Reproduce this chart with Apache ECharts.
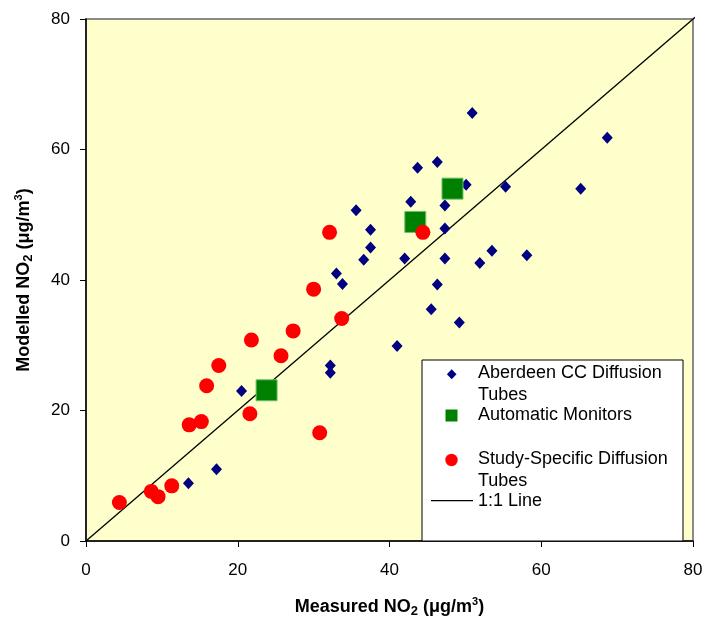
<!DOCTYPE html>
<html><head><meta charset="utf-8">
<script src="https://cdn.jsdelivr.net/npm/echarts@6/dist/echarts.min.js"></script>
<style>html,body{margin:0;padding:0;background:#fff}#c{width:707px;height:626px}</style>
</head><body><div id="c"></div>
<script>
var abX = [13.5, 17.2, 20.5, 32.2, 32.2, 33.0, 33.8, 35.6, 36.6, 37.5, 37.5, 41.0, 42.0, 42.8, 43.7, 45.5, 46.3, 46.3, 47.3, 47.3, 47.3, 49.2, 50.1, 50.9, 51.9, 53.5, 55.3, 58.1, 65.2, 68.7];
var abY = [8.85, 11.0, 23.0, 26.9, 25.8, 41.0, 39.4, 50.7, 43.1, 47.7, 45.0, 29.9, 43.3, 52.0, 57.2, 35.5, 58.1, 39.3, 51.4, 47.9, 43.3, 33.5, 54.6, 65.6, 42.6, 44.5, 54.3, 43.8, 54.0, 61.8];
var autoX = [23.8, 43.4, 48.3];
var autoY = [23.1, 48.9, 54.0];
var studyX = [4.4, 8.6, 9.5, 11.3, 13.6, 15.2, 15.9, 17.5, 21.6, 21.8, 25.7, 27.3, 30.0, 30.8, 32.1, 33.7, 44.4];
var studyY = [5.9, 7.6, 6.8, 8.45, 17.8, 18.3, 23.8, 26.9, 19.5, 30.8, 28.4, 32.2, 38.6, 16.6, 47.3, 34.1, 47.3];
var lineX = [0, 81.7];
var lineY = [0, 81.7];
var axisTicks = [0, 20, 40, 60, 80];
var legendNames = ['Aberdeen CC Diffusion\nTubes', 'Automatic Monitors', 'Study-Specific Diffusion\nTubes', '1:1 Line'];

function zip(a, b) { return a.map(function (v, i) { return [v, b[i]]; }); }
var FF = '"Liberation Sans", Arial, sans-serif';
var titleRich = {
  b: { fontFamily: FF, fontSize: 18, fontWeight: 'bold', color: '#000', lineHeight: 22 },
  sub: { fontFamily: FF, fontSize: 13, fontWeight: 'bold', color: '#000', lineHeight: 13, verticalAlign: 'bottom' },
  sup: { fontFamily: FF, fontSize: 11, fontWeight: 'bold', color: '#000', lineHeight: 11, verticalAlign: 'top' }
};
function axisCommon(name, gap) {
  return {
    type: 'value', min: axisTicks[0], max: axisTicks[axisTicks.length - 1], interval: axisTicks[1] - axisTicks[0],
    name: name, nameLocation: 'middle', nameGap: gap,
    nameTextStyle: { rich: titleRich },
    axisLine: { show: true, onZero: false, lineStyle: { color: '#000', width: 1.5 } },
    axisTick: { show: true, length: 6, lineStyle: { color: '#000', width: 1 } },
    axisLabel: { fontFamily: FF, fontSize: 17, color: '#000' },
    splitLine: { show: false }
  };
}
var xAxis = axisCommon('{b|Measured NO}{sub|2}{b| (μg/m}{sup|3}{b|)}', 55);
xAxis.axisLabel.margin = 21;
var yAxis = axisCommon('{b|Modelled NO}{sub|2}{b| (μg/m}{sup|3}{b|)}', 51);
yAxis.axisLabel.margin = 16;

var LX = 422, LY = 360;
var legendText = { fontFamily: FF, fontSize: 18, fill: '#000' };
function ltxt(t, x, y) {
  return { type: 'text', x: x, y: y, silent: true, z: 101, style: Object.assign({ text: t, verticalAlign: 'middle', align: 'left' }, legendText) };
}
var nm0 = legendNames[0].split('\n'), nm2 = legendNames[2].split('\n');

var chart = echarts.init(document.getElementById('c'), null, { renderer: 'canvas' });
chart.setOption({
  animation: false,
  backgroundColor: '#fff',
  grid: { left: 86, top: 19, right: 14, bottom: 85, show: true, backgroundColor: '#FFFFCC', borderColor: '#8a8a8a', borderWidth: 2 },
  xAxis: xAxis,
  yAxis: yAxis,
  series: [
    { name: legendNames[3], type: 'line', data: zip(lineX, lineY), symbol: 'none', clip: false, lineStyle: { color: '#000', width: 1.3 }, z: 1 },
    { name: legendNames[0], type: 'scatter', data: zip(abX, abY), symbol: 'diamond', symbolSize: [11, 12], itemStyle: { color: '#000080', opacity: 1 }, z: 2 },
    { name: legendNames[1], type: 'scatter', data: zip(autoX, autoY), symbol: 'rect', symbolSize: 21, itemStyle: { color: '#008000', borderColor: '#6fbf6f', borderWidth: 1, opacity: 1 }, z: 3 },
    { name: legendNames[2], type: 'scatter', data: zip(studyX, studyY), symbol: 'circle', symbolSize: 15, itemStyle: { color: '#FF0000', opacity: 1 }, z: 4 }
  ],
  graphic: [
    { type: 'rect', shape: { x: LX, y: LY, width: 261, height: 181 }, style: { fill: '#fff', stroke: '#000', lineWidth: 1 }, z: 100, silent: true },
    { type: 'polygon', shape: { points: [[451.7, 369.3], [456.5, 374.3], [451.7, 379.3], [446.9, 374.3]] }, style: { fill: '#000080' }, z: 101, silent: true },
    { type: 'rect', shape: { x: 445.5, y: 409.5, width: 12, height: 12 }, style: { fill: '#008000' }, z: 101, silent: true },
    { type: 'circle', shape: { cx: 451.5, cy: 460, r: 6.2 }, style: { fill: '#FF0000' }, z: 101, silent: true },
    { type: 'line', shape: { x1: 431, y1: 500.7, x2: 473, y2: 500.7 }, style: { stroke: '#000', lineWidth: 1.3 }, z: 101, silent: true },
    ltxt(nm0[0], 478, 373.5),
    ltxt(nm0[1], 478, 395),
    ltxt(legendNames[1], 478, 415),
    ltxt(nm2[0], 478, 459.5),
    ltxt(nm2[1], 478, 481),
    ltxt(legendNames[3], 478, 501)
  ]
});
</script></body></html>
